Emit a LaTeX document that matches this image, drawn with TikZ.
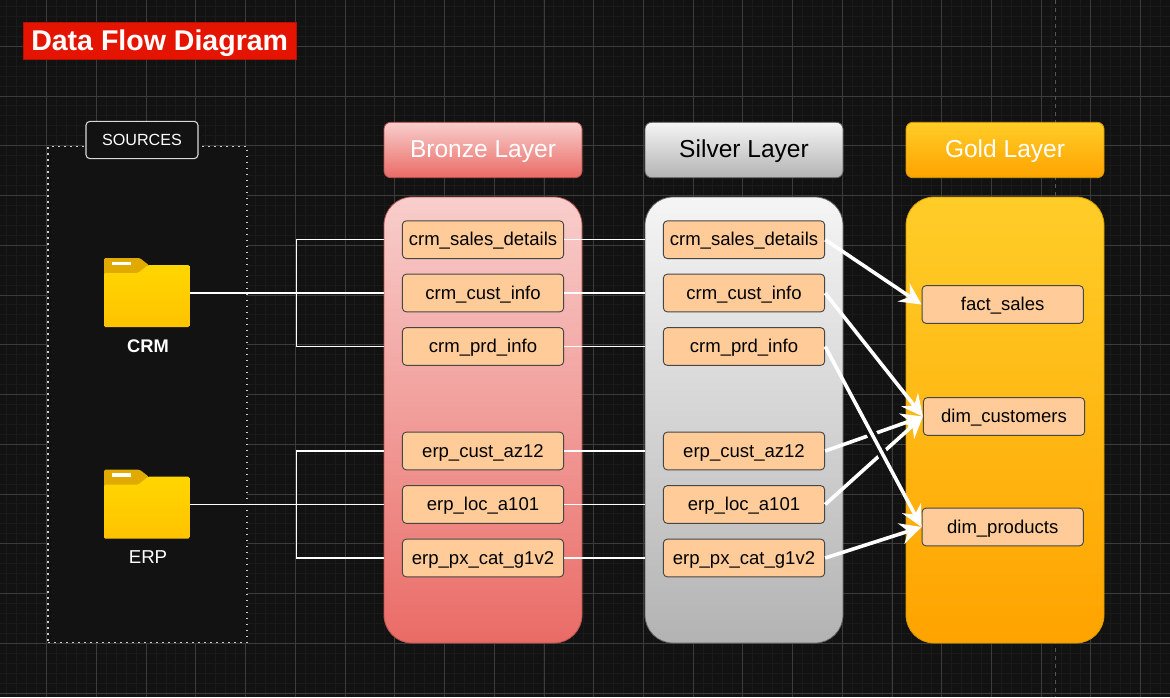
\documentclass[tikz,border=0pt]{standalone}
\usepackage{fontspec}
\setmainfont{Liberation Sans}
\usepackage{tikz}
\usetikzlibrary{positioning,arrows.meta,calc}
\definecolor{PageBlack}{RGB}{18,18,18}
\definecolor{GridMinor}{RGB}{26,26,26}
\definecolor{GridMajor}{RGB}{60,60,60}
\definecolor{PageBreak}{RGB}{85,85,85}
\definecolor{TableFill}{RGB}{255,204,153}
\definecolor{TableLine}{RGB}{70,70,70}
\definecolor{TitleRed}{RGB}{229,20,0}
\definecolor{TitleEdge}{RGB}{176,18,0}
\definecolor{BronzeTop}{RGB}{248,206,204}
\definecolor{BronzeEnd}{RGB}{234,107,102}
\definecolor{BronzeEdge}{RGB}{184,84,80}
\definecolor{SilverTop}{RGB}{245,245,245}
\definecolor{SilverEnd}{RGB}{179,179,179}
\definecolor{SilverEdge}{RGB}{102,102,102}
\definecolor{GoldTop}{RGB}{255,205,40}
\definecolor{GoldEnd}{RGB}{255,163,0}
\definecolor{GoldEdge}{RGB}{215,155,0}
\definecolor{FolderTop}{RGB}{255,214,0}
\definecolor{FolderEnd}{RGB}{255,195,0}
\definecolor{FolderTab}{RGB}{224,170,0}
\tikzset{
  tablebox/.style={draw=TableLine,fill=TableFill,rounded corners=3pt,minimum width=121pt,minimum height=28.3pt,inner sep=0pt,text height=12pt,text depth=3pt,font=\fontsize{13.9}{16}\selectfont,text=black,line width=0.7pt},
  layerhead/.style={draw=#1Edge,rounded corners=5pt,minimum width=148.5pt,minimum height=41.5pt,inner sep=0pt,text height=14.6pt,text depth=3pt,font=\fontsize{18.4}{22}\selectfont,top color=#1Top,bottom color=#1End,line width=0.6pt},
  layerbody/.style={draw=#1Edge,rounded corners=21pt,minimum width=148.5pt,minimum height=334.5pt,top color=#1Top,bottom color=#1End,line width=0.6pt},
  feed/.style={draw=white,line width=0.8pt},
  flow/.style={draw=white,line width=2.7pt,-{Stealth[length=16pt,width=16pt,inset=5.5pt]}},
}
% one source folder, #1 is the name, #2 the centre of its body
\newcommand{\srcfolder}[2]{%
  \begin{scope}[shift={(#2)}]
    \fill[FolderTab,rounded corners=1pt] (-42.7,-20) -- (-42.7,-38) -- (-7,-38) -- (2,-31) -- (2,-20) -- cycle;
    \fill[white] (-34.7,-34.3) rectangle (-15.7,-30.7);
    \path[rounded corners=1pt,top color=FolderTop,bottom color=FolderEnd] (-42.7,-23) -- (-8.7,-23) -- (1.3,-31) -- (42.7,-31) -- (42.7,31) -- (-42.7,31) -- cycle;
    \node[inner sep=0pt,minimum width=64pt,minimum height=46.5pt] (#1) at (0,0) {};
  \end{scope}
}
\begin{document}
\begin{tikzpicture}[x=0.75pt,y=-0.75pt]
  \useasboundingbox (0,0) rectangle (1170,697);
  \fill[PageBlack] (0,0) rectangle (1170,697);
  % grid
  \foreach \i in {0,...,118}
    \draw[GridMinor,line width=0.75pt] ({-3+9.944*\i},0) -- ({-3+9.944*\i},697);
  \foreach \i in {0,...,70}
    \draw[GridMinor,line width=0.75pt] (0,{-3.5+9.95*\i}) -- (1170,{-3.5+9.95*\i});
  \foreach \i in {0,...,23}
    \draw[GridMajor,line width=0.6pt] ({-3+49.72*\i},0) -- ({-3+49.72*\i},697);
  \foreach \i in {0,...,14}
    \draw[GridMajor,line width=0.6pt] (0,{-3.5+49.75*\i}) -- (1170,{-3.5+49.75*\i});
  \draw[PageBreak,dash pattern=on 3pt off 3pt,line width=0.75pt] (1055,0) -- (1055,697);

  % title
  \node[fill=TitleRed,draw=TitleEdge,line width=0.6pt,minimum width=205pt,minimum height=27.5pt,inner sep=0pt,text height=17pt,text depth=3pt,text=white,font=\bfseries\fontsize{21.4}{24}\selectfont] (title) at (159.7,40.7) {Data Flow Diagram};

  % sources
  \node[fill=PageBlack,draw=white!80!black,dash pattern=on 1.1pt off 3.4pt,line width=1.1pt,minimum width=149pt,minimum height=372pt,inner sep=0pt] (srcframe) at (147.5,394.5) {};
  \fill[PageBlack] (84,135) rectangle (202,155);
  \node[fill=PageBlack,draw=white!85!black,rounded corners=3pt,line width=0.8pt,minimum width=84pt,minimum height=28pt,inner sep=0pt,text=white,font=\fontsize{12.1}{15}\selectfont] (srclabel) at (142,140) {SOURCES};
  \srcfolder{crm}{146.7,296}
  \srcfolder{erp}{146.7,507.7}
  \node[text=white,font=\bfseries\fontsize{13.7}{16}\selectfont] (crmlabel) at (148,346) {CRM};
  \node[text=white,font=\fontsize{14}{16}\selectfont] (erplabel) at (148,557) {ERP};

  % layers
  \node[layerhead=Bronze,text=white] (bronzehead) at (483,150) {Bronze Layer};
  \node[layerbody=Bronze] (bronze) at (483,420) {};
  \node[layerhead=Silver,text=black] (silverhead) at (744,150) {Silver Layer};
  \node[layerbody=Silver] (silver) at (744,420) {};
  \node[layerhead=Gold,text=white] (goldhead) at (1005,150) {Gold Layer};
  \node[layerbody=Gold] (gold) at (1005,420) {};

  % tables
  \foreach \nm/\ypos/\txt in {salesdet/239.7/crm\_sales\_details,custinfo/293/crm\_cust\_info,prdinfo/346.5/crm\_prd\_info,custaz/451/erp\_cust\_az12,loca/504.5/erp\_loc\_a101,pxcat/558/erp\_px\_cat\_g1v2}{
    \node[tablebox] (b\nm) at (483,\ypos) {\txt};
    \node[tablebox] (s\nm) at (744,\ypos) {\txt};
  }
  \node[tablebox] (factsales) at (1002.7,304.5) {fact\_sales};
  \node[tablebox] (dimcust) at (1004,416.5) {dim\_customers};
  \node[tablebox] (dimprod) at (1002.7,527) {dim\_products};

  % source feeds
  \coordinate (crmjoin) at (296.5,293);
  \coordinate (erpjoin) at (296.5,504.5);
  \draw[feed] (crm.east |- bcustinfo) -- (bronze.west |- bcustinfo);
  \draw[feed] (erp.east |- bloca) -- (bronze.west |- bloca);
  \foreach \nm in {salesdet,prdinfo}
    \draw[feed] (crmjoin) |- (bronze.west |- b\nm);
  \foreach \nm in {custaz,pxcat}
    \draw[feed] (erpjoin) |- (bronze.west |- b\nm);
  \foreach \nm in {salesdet,custinfo,prdinfo,custaz,loca,pxcat}
    \draw[feed] (b\nm.east) -- (silver.west |- b\nm);

  % flows into gold
  \draw[flow] (ssalesdet.east) -- (factsales.west);
  \draw[flow] (scustinfo.east) -- (dimcust.west);
  \draw[flow] (scustaz.east) -- (dimcust.west);
  \draw[flow] (sloca.east) -- (dimcust.west);
  \draw[PageBlack,line width=7.5pt] ($(sprdinfo.east)!0.445!(dimprod.west)$) -- ($(sprdinfo.east)!0.645!(dimprod.west)$);
  \draw[flow] (sprdinfo.east) -- (dimprod.west);
  \draw[flow] (spxcat.east) -- (dimprod.west);
\end{tikzpicture}
\end{document}
